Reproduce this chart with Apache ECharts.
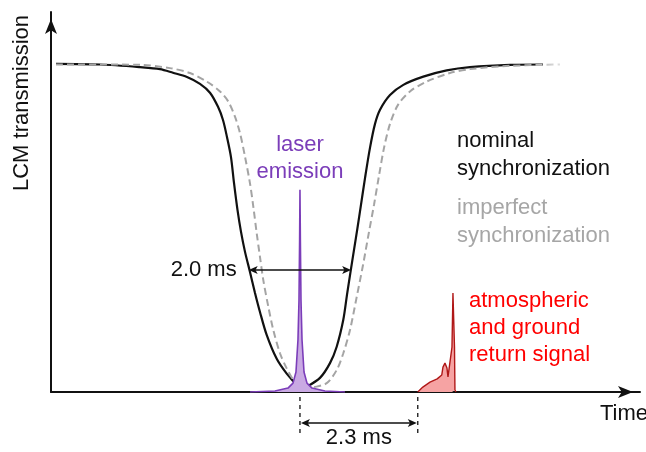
<!DOCTYPE html>
<html>
<head>
<meta charset="utf-8">
<script src="https://cdn.jsdelivr.net/npm/echarts@6/dist/echarts.min.js"></script>
<style>
html, body { margin: 0; padding: 0; background: #fff; }
#chart { width: 646px; height: 452px; }
</style>
</head>
<body>
<div id="chart"></div>
<script>
// Time in milliseconds, LCM transmission normalised to the fully open state (1.0)
const nominalT = [0.098, 0.957, 1.738, 2.128, 2.382, 2.655, 2.909, 3.104, 3.261, 3.358, 3.436, 3.514, 3.573, 3.641, 3.710, 3.788, 3.885, 3.983, 4.080, 4.211, 4.407, 4.602, 4.797, 4.920, 4.992, 5.252, 5.447, 5.578, 5.707, 5.779, 5.848, 5.916, 5.984, 6.052, 6.131, 6.228, 6.326, 6.424, 6.619, 6.879, 7.269, 7.726, 8.181, 8.962, 9.606];
const nominalV = [1.000, 0.998, 0.990, 0.984, 0.973, 0.960, 0.939, 0.912, 0.869, 0.829, 0.777, 0.716, 0.637, 0.555, 0.488, 0.427, 0.366, 0.302, 0.244, 0.174, 0.101, 0.056, 0.023, 0.014, 0.016, 0.043, 0.088, 0.138, 0.220, 0.296, 0.366, 0.433, 0.500, 0.570, 0.652, 0.744, 0.817, 0.860, 0.905, 0.936, 0.961, 0.980, 0.990, 0.997, 0.998];

const imperfectT = [0.098, 0.957, 1.738, 2.323, 2.714, 3.040, 3.300, 3.462, 3.592, 3.690, 3.788, 3.885, 3.950, 4.016, 4.080, 4.145, 4.243, 4.340, 4.471, 4.602, 4.731, 4.862, 4.992, 5.121, 5.383, 5.578, 5.707, 5.838, 5.969, 6.092, 6.209, 6.306, 6.404, 6.502, 6.619, 6.775, 7.009, 7.335, 7.790, 8.181, 8.962, 9.938];
const imperfectV = [0.998, 0.998, 0.997, 0.987, 0.972, 0.946, 0.916, 0.885, 0.839, 0.789, 0.717, 0.636, 0.565, 0.484, 0.412, 0.341, 0.260, 0.189, 0.118, 0.072, 0.037, 0.016, 0.011, 0.014, 0.027, 0.067, 0.118, 0.189, 0.290, 0.387, 0.488, 0.570, 0.659, 0.744, 0.817, 0.875, 0.916, 0.946, 0.972, 0.984, 0.994, 0.998];

const laserT = [3.885, 4.373, 4.627, 4.725, 4.783, 4.822, 4.842, 4.854, 4.861, 4.869, 4.881, 4.901, 4.940, 4.998, 5.096, 5.349, 5.740];
const laserV = [0.000, 0.003, 0.012, 0.027, 0.061, 0.159, 0.280, 0.463, 0.616, 0.463, 0.280, 0.159, 0.061, 0.027, 0.012, 0.003, 0.000];

const returnT = [7.16, 7.26, 7.40, 7.54, 7.63, 7.653, 7.692, 7.731, 7.751, 7.790, 7.829, 7.848, 7.862, 7.878, 7.887, 7.907];
const returnV = [0.000, 0.015, 0.030, 0.040, 0.052, 0.076, 0.088, 0.073, 0.046, 0.046, 0.137, 0.302, 0.305, 0.137, 0.006, 0.000];

// Opening width of the nominal shutter and laser-to-return delay
const widthStartT = 3.86;
const widthMs = 2.0;
const widthLevel = 0.372;
const laserPeakT = 4.861;
const delayMs = 2.3;

const FONT = "22px 'Liberation Sans', Arial, sans-serif";
const pairs = (xs, ys) => xs.map((x, i) => [x, ys[i]]);

function arrowHead(tipX, tipY, dir, color) {
  // dir: +1 points right, -1 points left
  const len = 9, half = 4;
  return {
    type: 'polygon',
    shape: { points: [[tipX, tipY], [tipX - dir * len, tipY - half], [tipX - dir * len * 0.75, tipY], [tipX - dir * len, tipY + half]] },
    style: { fill: color }
  };
}

function doubleArrow(x1, x2, y, color) {
  return [
    { type: 'line', shape: { x1: x1 + 4, y1: y, x2: x2 - 4, y2: y }, style: { stroke: color, lineWidth: 1.4 } },
    arrowHead(x1, y, -1, color),
    arrowHead(x2, y, 1, color)
  ];
}

const chart = echarts.init(document.getElementById('chart'), null, { renderer: 'canvas' });

const axisCommon = {
  type: 'value',
  axisTick: { show: false },
  axisLabel: { show: false },
  splitLine: { show: false },
  axisLine: {
    show: true,
    symbol: ['none', 'arrow'],
    symbolSize: [9, 15],
    symbolOffset: [0, -7],
    lineStyle: { color: '#111', width: 2 }
  }
};

chart.setOption({
  animation: false,
  backgroundColor: '#fff',
  grid: { left: 51, right: 6, top: 12, bottom: 60 },
  xAxis: Object.assign({}, axisCommon, { min: 0, max: 11.5 }),
  yAxis: Object.assign({}, axisCommon, { min: 0, max: 1.158 }),
  series: [
    {
      name: 'nominal synchronization',
      type: 'line',
      data: pairs(nominalT, nominalV),
      smooth: 0.3,
      showSymbol: false,
      lineStyle: { color: '#111', width: 2.2 },
      z: 3
    },
    {
      name: 'imperfect synchronization',
      type: 'line',
      data: pairs(imperfectT, imperfectV),
      smooth: 0.3,
      showSymbol: false,
      lineStyle: {
        width: 2,
        type: [7, 4],
        color: new echarts.graphic.LinearGradient(0, 0, 1, 0, [
          { offset: 0, color: '#a4a4a4' },
          { offset: 0.93, color: '#a4a4a4' },
          { offset: 1, color: '#e4e4e4' }
        ])
      },
      z: 4
    },
    {
      name: 'laser emission',
      type: 'line',
      data: pairs(laserT, laserV),
      showSymbol: false,
      lineStyle: { color: '#7b3db9', width: 1.6 },
      areaStyle: { color: '#c9a9e3', opacity: 1 },
      z: 5
    },
    {
      name: 'atmospheric and ground return signal',
      type: 'line',
      data: pairs(returnT, returnV),
      showSymbol: false,
      lineStyle: { color: '#b01818', width: 1.4 },
      areaStyle: { color: '#f6a3a3', opacity: 1 },
      z: 5
    },
    {
      // shutter opening width marker
      type: 'custom',
      clip: false,
      z: 6,
      data: [[widthStartT, widthStartT + widthMs, widthLevel]],
      renderItem: function (params, api) {
        const p1 = api.coord([api.value(0), api.value(2)]);
        const p2 = api.coord([api.value(1), api.value(2)]);
        return {
          type: 'group',
          children: doubleArrow(p1[0], p2[0], p1[1], '#111').concat([{
            type: 'text',
            style: { text: widthMs.toFixed(1) + ' ms', x: p1[0] - 12, y: p1[1], align: 'right', verticalAlign: 'middle', font: FONT, fill: '#111' }
          }])
        };
      }
    },
    {
      // laser-to-return delay marker below the time axis
      type: 'custom',
      clip: false,
      z: 6,
      data: [[laserPeakT, laserPeakT + delayMs]],
      renderItem: function (params, api) {
        const a = api.coord([api.value(0), 0]);
        const b = api.coord([api.value(1), 0]);
        const yArrow = a[1] + 31;
        const dashed = (x) => ({
          type: 'line',
          shape: { x1: x, y1: a[1] + 5, x2: x, y2: a[1] + 42 },
          style: { stroke: '#111', lineWidth: 1.3, lineDash: [4, 4] }
        });
        return {
          type: 'group',
          children: [dashed(a[0]), dashed(b[0])]
            .concat(doubleArrow(a[0] + 1, b[0] - 1, yArrow, '#111'))
            .concat([{
              type: 'text',
              style: { text: delayMs.toFixed(1) + ' ms', x: (a[0] + b[0]) / 2, y: a[1] + 46, align: 'center', verticalAlign: 'middle', font: FONT, fill: '#111' }
            }])
        };
      }
    }
  ],
  graphic: [
    { type: 'text', x: 22, y: 103, rotation: Math.PI / 2, style: { text: 'LCM transmission', align: 'center', verticalAlign: 'middle', font: FONT, fill: '#111' } },
    { type: 'text', x: 600, y: 414, style: { text: 'Time', align: 'left', verticalAlign: 'middle', font: FONT, fill: '#111' } },
    { type: 'text', x: 300, y: 145, style: { text: 'laser', align: 'center', verticalAlign: 'middle', font: FONT, fill: '#7b3db9' } },
    { type: 'text', x: 300, y: 172, style: { text: 'emission', align: 'center', verticalAlign: 'middle', font: FONT, fill: '#7b3db9' } },
    { type: 'text', x: 457, y: 141, style: { text: 'nominal', align: 'left', verticalAlign: 'middle', font: FONT, fill: '#111' } },
    { type: 'text', x: 457, y: 169, style: { text: 'synchronization', align: 'left', verticalAlign: 'middle', font: FONT, fill: '#111' } },
    { type: 'text', x: 457, y: 208, style: { text: 'imperfect', align: 'left', verticalAlign: 'middle', font: FONT, fill: '#a6a6a6' } },
    { type: 'text', x: 457, y: 236, style: { text: 'synchronization', align: 'left', verticalAlign: 'middle', font: FONT, fill: '#a6a6a6' } },
    { type: 'text', x: 469, y: 301, style: { text: 'atmospheric', align: 'left', verticalAlign: 'middle', font: FONT, fill: '#ff0000' } },
    { type: 'text', x: 469, y: 328, style: { text: 'and ground', align: 'left', verticalAlign: 'middle', font: FONT, fill: '#ff0000' } },
    { type: 'text', x: 469, y: 355, style: { text: 'return signal', align: 'left', verticalAlign: 'middle', font: FONT, fill: '#ff0000' } }
  ]
});
</script>
</body>
</html>
